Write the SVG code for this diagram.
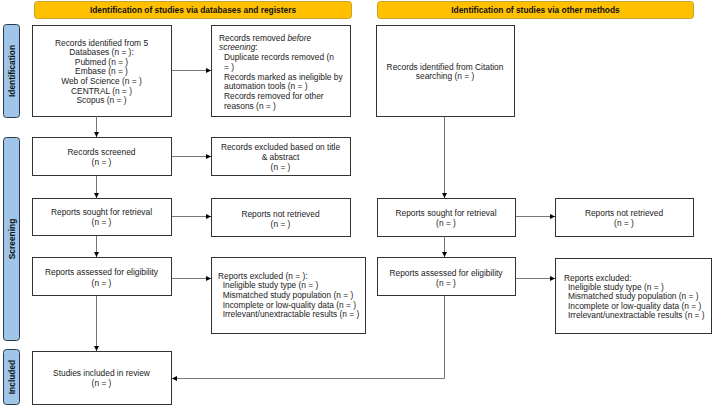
<svg xmlns="http://www.w3.org/2000/svg" width="713" height="406" viewBox="0 0 713 406">
<defs>
<marker id="ah" viewBox="0 0 10 10" refX="10" refY="5" markerWidth="5" markerHeight="5" orient="auto" markerUnits="userSpaceOnUse">
<path d="M0,0 L10,5 L0,10 z" fill="#000"/>
</marker>
<style>
text{font-family:"Liberation Sans",Arial,sans-serif;font-size:8.4px;fill:#222}
.c{text-anchor:middle}
.h{font-weight:bold;font-size:8.4px;text-anchor:middle;fill:#111}
.s{font-weight:bold;font-size:8.4px;text-anchor:middle;fill:#111}
.box{fill:#fff;stroke:#333;stroke-width:1}
.hdr{fill:#FFC000;stroke:#C9A227;stroke-width:1}
.side{fill:#9FC5E8;stroke:#2B3A4A;stroke-width:1}
.ln{fill:none;stroke:#666;stroke-width:0.9;marker-end:url(#ah)}
</style>
</defs>
<rect width="713" height="406" fill="#fff"/>

<g id="header-left"><rect class="hdr" x="34.5" y="1.5" width="317" height="17" rx="3"/><text class="h" x="193" y="13">Identification of studies via databases and registers</text></g>
<g id="header-right"><rect class="hdr" x="377.5" y="1.5" width="316" height="17" rx="3"/><text class="h" x="535.5" y="13">Identification of studies via other methods</text></g>

<g id="side-identification"><rect class="side" x="3.5" y="24.5" width="16" height="93" rx="3"/><text class="s" transform="translate(14.5,71) rotate(-90)">Identification</text></g>
<g id="side-screening"><rect class="side" x="3.5" y="137.5" width="16" height="203" rx="3"/><text class="s" transform="translate(14.5,239) rotate(-90)">Screening</text></g>
<g id="side-included"><rect class="side" x="3.5" y="349.5" width="16" height="55" rx="3"/><text class="s" transform="translate(14.5,377) rotate(-90)">Included</text></g>

<g id="records-identified"><rect class="box" x="32.5" y="25.5" width="139" height="91"/>
<text class="c" x="101.5" y="45.5">Records identified from 5</text>
<text class="c" x="101.5" y="55.1">Databases (n = ):</text>
<text class="c" x="101.5" y="64.7">Pubmed (n = )</text>
<text class="c" x="101.5" y="74.3">Embase (n = )</text>
<text class="c" x="101.5" y="83.9">Web of Science (n = )</text>
<text class="c" x="101.5" y="93.5">CENTRAL (n = )</text>
<text class="c" x="101.5" y="103.1">Scopus (n = )</text>
</g>

<g id="records-removed"><rect class="box" x="211.5" y="25.5" width="139" height="91"/>
<text x="219" y="40.7">Records removed <tspan font-style="italic">before</tspan></text>
<text x="219" y="50.4"><tspan font-style="italic">screening</tspan>:</text>
<text x="224" y="60.1">Duplicate records removed  (n</text>
<text x="224" y="69.8">= )</text>
<text x="224" y="79.5">Records marked as ineligible by</text>
<text x="224" y="89.2">automation tools (n = )</text>
<text x="224" y="98.9">Records removed for other</text>
<text x="224" y="108.6">reasons (n = )</text>
</g>

<g id="citation"><rect class="box" x="376.5" y="25.5" width="138" height="91"/>
<text class="c" x="445" y="69.7">Records identified from Citation</text>
<text class="c" x="445" y="79.3">searching (n = )</text>
</g>

<g id="records-screened"><rect class="box" x="32.5" y="137.5" width="139" height="38"/>
<text class="c" x="101.5" y="154.7">Records screened</text>
<text class="c" x="101.5" y="164.7">(n = )</text>
</g>

<g id="records-excluded"><rect class="box" x="211.5" y="137.5" width="139" height="38"/>
<text class="c" x="280.5" y="150.3">Records excluded based on title</text>
<text class="c" x="280.5" y="160.1">&amp; abstract</text>
<text class="c" x="280.5" y="169.9">(n = )</text>
</g>

<g id="reports-sought"><rect class="box" x="32.5" y="198.5" width="139" height="37"/>
<text class="c" x="101.5" y="215.3">Reports sought for retrieval</text>
<text class="c" x="101.5" y="225">(n = )</text>
</g>

<g id="reports-not-retrieved"><rect class="box" x="211.5" y="198.5" width="139" height="38"/>
<text class="c" x="280.5" y="216.7">Reports not retrieved</text>
<text class="c" x="280.5" y="226.7">(n = )</text>
</g>

<g id="reports-assessed"><rect class="box" x="32.5" y="257.5" width="139" height="38"/>
<text class="c" x="101.5" y="275.3">Reports assessed for eligibility</text>
<text class="c" x="101.5" y="286">(n = )</text>
</g>

<g id="reports-excluded"><rect class="box" x="211.5" y="257.5" width="154" height="76"/>
<text x="218" y="278.7">Reports excluded (n = ):</text>
<text x="222.7" y="288">Ineligible study type (n = )</text>
<text x="222.7" y="297.8">Mismatched study population (n = )</text>
<text x="222.7" y="307.5">Incomplete or low-quality data (n = )</text>
<text x="222.7" y="317.2">Irrelevant/unextractable results (n = )</text>
</g>

<g id="studies-included"><rect class="box" x="32.5" y="351.5" width="139" height="53"/>
<text class="c" x="101.5" y="375.7">Studies included in review</text>
<text class="c" x="101.5" y="385.7">(n = )</text>
</g>

<g id="reports-sought-other"><rect class="box" x="377.5" y="198.5" width="138" height="38"/>
<text class="c" x="446" y="216.3">Reports sought for retrieval</text>
<text class="c" x="446" y="226.3">(n = )</text>
</g>

<g id="reports-not-retrieved-other"><rect class="box" x="555.5" y="198.5" width="138" height="38"/>
<text class="c" x="624" y="216.3">Reports not retrieved</text>
<text class="c" x="624" y="226.3">(n = )</text>
</g>

<g id="reports-assessed-other"><rect class="box" x="377.5" y="257.5" width="138" height="38"/>
<text class="c" x="446" y="276.3">Reports assessed for eligibility</text>
<text class="c" x="446" y="286.3">(n = )</text>
</g>

<g id="reports-excluded-other"><rect class="box" x="555.5" y="258.5" width="156" height="75"/>
<text x="564" y="280.7">Reports excluded:</text>
<text x="568" y="289.7">Ineligible study type (n = )</text>
<text x="568" y="299">Mismatched study population (n = )</text>
<text x="568" y="308.7">Incomplete or low-quality data (n = )</text>
<text x="568" y="318.3">Irrelevant/unextractable results (n = )</text>
</g>

<g id="connectors">
<path class="ln" d="M171.5,70.5 H211"/>
<path class="ln" d="M96.5,116 V137"/>
<path class="ln" d="M171.5,156.5 H211"/>
<path class="ln" d="M96.5,176 V198"/>
<path class="ln" d="M171.5,216.5 H211"/>
<path class="ln" d="M96.5,236 V257"/>
<path class="ln" d="M171.5,278.5 H211"/>
<path class="ln" d="M96.5,296 V351"/>
<path class="ln" d="M444.5,117 V198"/>
<path class="ln" d="M515.5,216.5 H555"/>
<path class="ln" d="M444.5,236 V257"/>
<path class="ln" d="M515.5,278.5 H555"/>
<path class="ln" d="M444.5,296 V378.5 H172"/>
</g>
</svg>
